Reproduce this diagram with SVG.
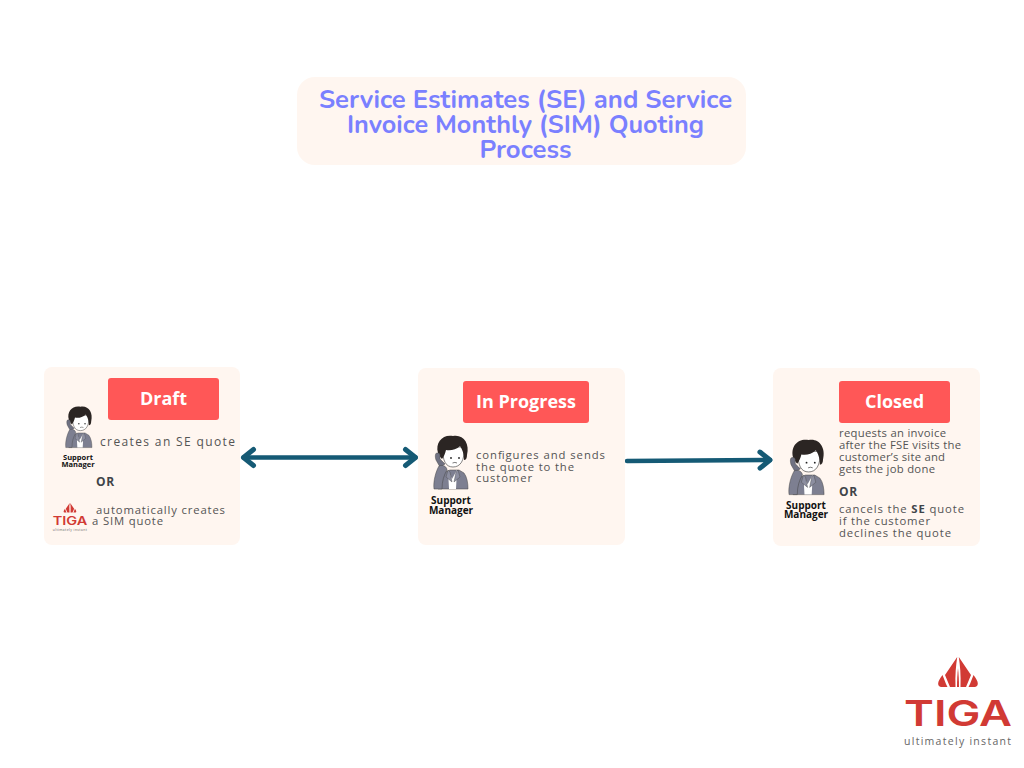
<svg xmlns="http://www.w3.org/2000/svg" width="1024" height="768" viewBox="0 0 1024 768">
<style>
.card{fill:#fff6f0}
.badge{fill:#ff5757}
.bt{font:700 18px "Open Sans",sans-serif;fill:#fff;text-anchor:middle}
.t{font:400 11.3px "Open Sans",sans-serif;fill:#545454}
.or{font:700 12px "Open Sans",sans-serif;fill:#3f4449;letter-spacing:.6px}
.b{font-weight:700;fill:#3f4449}
.sm{font-family:"Open Sans",sans-serif;font-weight:700;fill:#111;text-anchor:middle}
.title{font:700 25.7px "Nunito","Noto Sans",sans-serif;fill:#7a80ff;text-anchor:middle}
.conn{fill:none;stroke:#155a75;stroke-width:4.500;stroke-linecap:round;stroke-linejoin:round}
</style>
<defs>
<symbol id="person" overflow="visible">
<path d="M5 54C4 46 6 40 12 37L17 35L26 35L31 38C34 42 35 48 35 54Z" fill="#7d7f91" stroke="#444" stroke-width=".5"/>
<path d="M15 35L19 44L24 35L23 54L16 54Z" fill="#fff"/>
<path d="M15 35L13 42L19 47L17 37Z M25 35L27 42L21 47L23 37Z" fill="#8c8ea0" stroke="#444" stroke-width=".4"/>
<path d="M10 12C9 26 13 32 20 32C27 32 32 26 31 12Z" fill="#fff" stroke="#333" stroke-width=".6"/>
<path d="M5 18C2 7 10 -1 20 1C30 -1 37 8 34 20C34 23 33 25 31 25C31 18 29 14 27 11C23 15 17 16 13 15C12 19 11 21 9 24C7 22 6 20 5 18Z" fill="#2b2523"/>
<circle cx="18" cy="23" r=".9" fill="#222"/><circle cx="26" cy="23" r=".9" fill="#222"/>
<path d="M19.500 28Q22 26.800 24 28" fill="none" stroke="#444" stroke-width=".7"/>
<path d="M4 18C2 18 2 22 3 25L7 32L12 29L10 27L7 24L7 20C7 18 5 18 4 18Z" fill="#6f7182" stroke="#444" stroke-width=".5"/>
<path d="M6 31C3 36 0 46 1 54L9 54C9 46 11 40 14 35C14 32 10 29 6 31Z" fill="#7d7f91" stroke="#444" stroke-width=".5"/>
</symbol>
<symbol id="logo" overflow="visible">
<path d="M957.200 657L945 675L950 687L955.500 687C955 675 956 665 957.200 657Z" fill="#d13a34"/>
<path d="M958.800 657L971 675L966 687L960.500 687C961 675 960 665 958.800 657Z" fill="#d13a34"/>
<path d="M958 668C958.600 674 959 680 959 687L957 687C957 680 957.400 674 958 668Z" fill="#d13a34"/>
<path d="M942.500 675L946 684L947.500 687L941 687C937 686 937 682 942.500 675Z" fill="#d13a34"/>
<path d="M973.500 675L970 684L968.500 687L975 687C979 686 979 682 973.500 675Z" fill="#d13a34"/>
<text x="904" y="726" textLength="108" lengthAdjust="spacingAndGlyphs" font-family="Inter,'Liberation Sans',sans-serif" font-weight="600" font-size="36" fill="#d13a34">TIGA</text>
<text x="904" y="745" textLength="107" font-family="'Open Sans',sans-serif" font-size="10.500" fill="#666">ultimately instant</text>
</symbol>
<marker id="head" markerUnits="userSpaceOnUse" viewBox="0 0 24 24" refX="18" refY="12" markerWidth="24" markerHeight="24" orient="auto-start-reverse"><path d="M8 4L18 12L8 20" fill="none" stroke="#155a75" stroke-width="5" stroke-linecap="round" stroke-linejoin="round"/></marker>
</defs>
<rect width="1024" height="768" fill="#fff"/>

<g id="title">
<rect x="297" y="77" width="449" height="88" rx="18" class="card"/>
<text class="title" x="525.500" y="108">Service Estimates (SE) and Service</text>
<text class="title" x="525.500" y="133" textLength="357" lengthAdjust="spacingAndGlyphs">Invoice Monthly (SIM) Quoting</text>
<text class="title" x="525.500" y="158">Process</text>
</g>

<g id="connectors">
<path class="conn" d="M243.500 457.500L415.500 457.500" marker-start="url(#head)" marker-end="url(#head)"/>
<path class="conn" d="M627 461L770 460" marker-end="url(#head)"/>
</g>

<g id="node-draft">
<rect x="44" y="367" width="196" height="178" rx="8" class="card"/>
<rect x="108" y="378" width="111" height="42" rx="3" class="badge"/>
<text class="bt" x="163.500" y="404.500">Draft</text>
<use href="#person" transform="translate(65 406) scale(.77)"/>
<text class="sm" font-size="7.500" x="78" y="460">Support</text>
<text class="sm" font-size="7.500" x="78" y="467">Manager</text>
<text class="t" x="100" y="445.500" style="font-size:12px" textLength="135">creates an SE quote</text>
<text class="or" x="96" y="486">OR</text>
<use href="#logo" transform="translate(53 503) scale(.32) translate(-905 -657)"/>
<text class="t" x="96" y="514" textLength="129">automatically creates</text>
<text class="t" x="92" y="525" textLength="71">a SIM quote</text>
</g>

<g id="node-in-progress">
<rect x="418" y="368" width="207" height="177" rx="8" class="card"/>
<rect x="463" y="381" width="126" height="42" rx="3" class="badge"/>
<text class="bt" x="526" y="407.500">In Progress</text>
<use href="#person" transform="translate(433 435)"/>
<text class="sm" font-size="10" x="451" y="504">Support</text>
<text class="sm" font-size="10" x="451" y="514">Manager</text>
<text class="t" x="476" y="459" textLength="129">configures and sends</text>
<text class="t" x="476" y="470.500" textLength="98">the quote to the</text>
<text class="t" x="476" y="482" textLength="56">customer</text>
</g>

<g id="node-closed">
<rect x="773" y="368" width="207" height="178" rx="8" class="card"/>
<rect x="839" y="381" width="111" height="42" rx="3" class="badge"/>
<text class="bt" x="894.500" y="407.500">Closed</text>
<use href="#person" transform="translate(788 439) scale(1.03)"/>
<text class="sm" font-size="10" x="806" y="509">Support</text>
<text class="sm" font-size="10" x="806" y="518">Manager</text>
<text class="t" x="839" y="437" textLength="107">requests an invoice</text>
<text class="t" x="839" y="449" textLength="122">after the FSE visits the</text>
<text class="t" x="839" y="461" textLength="106">customer’s site and</text>
<text class="t" x="839" y="473" textLength="96">gets the job done</text>
<text class="or" x="839" y="496">OR</text>
<text class="t" x="839" y="513" textLength="125">cancels the <tspan class="b">SE</tspan> quote</text>
<text class="t" x="839" y="525" textLength="91">if the customer</text>
<text class="t" x="839" y="537" textLength="112">declines the quote</text>
</g>

<g id="brand-logo">
<use href="#logo"/>
</g>
</svg>
